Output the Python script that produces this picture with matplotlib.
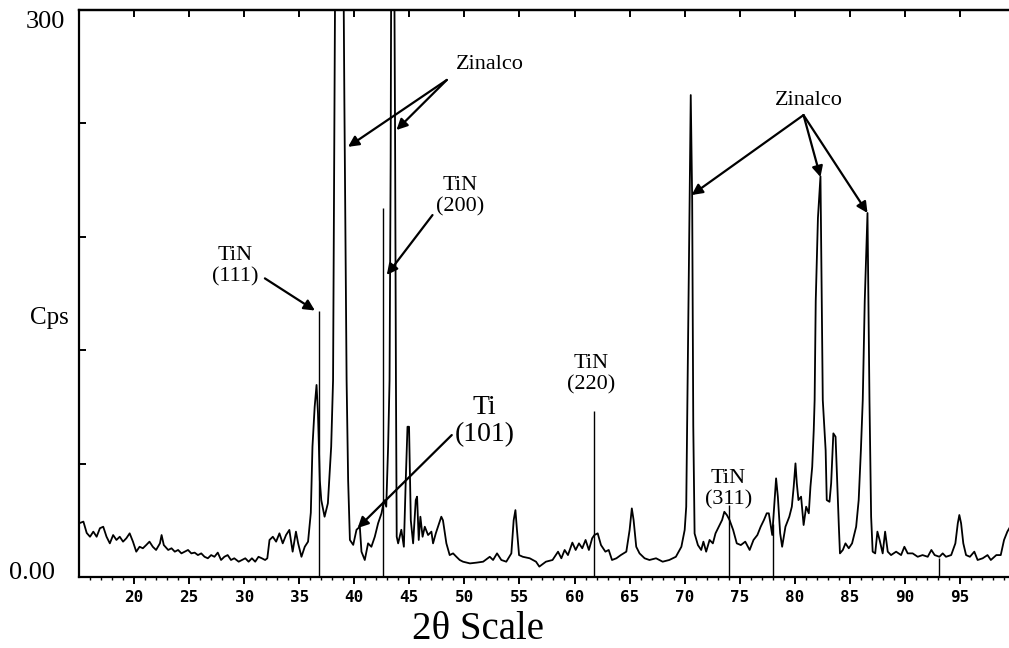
import numpy as np
import matplotlib.pyplot as plt
from matplotlib.transforms import blended_transform_factory

# XRD pattern (2theta in degrees, counts per second)
two_theta = [15.0, 15.4, 15.7, 16.0, 16.3, 16.6, 16.9, 17.2, 17.5, 17.8, 18.1, 18.4, 18.7, 19.0,
             19.3, 19.6, 19.9, 20.2, 20.5, 20.8, 21.1, 21.4, 21.7, 22.0, 22.35, 22.5, 22.7, 23.1,
             23.4, 23.7, 24.0, 24.3, 24.6, 24.9, 25.2, 25.5, 25.8, 26.1, 26.4, 26.7, 27.0, 27.3,
             27.6, 27.9, 28.2, 28.5, 28.8, 29.1, 29.5, 29.8, 30.1, 30.4, 30.7, 31.0, 31.3, 31.6,
             31.9, 32.1, 32.3, 32.6, 32.9, 33.2, 33.5, 33.8, 34.1, 34.4, 34.7, 34.9, 35.2, 35.5,
             35.8, 36.05, 36.2, 36.4, 36.57, 36.7, 36.87, 37.0, 37.3, 37.6, 37.9, 38.07, 38.2,
             38.35, 38.6, 38.9, 39.1, 39.2, 39.3, 39.44, 39.6, 39.9, 40.2, 40.5, 40.65, 40.95,
             41.25, 41.55, 41.86, 42.16, 42.47, 42.7, 42.9, 43.07, 43.2, 43.3, 43.4, 43.55, 43.7,
             43.78, 43.85, 43.98, 44.27, 44.5, 44.67, 44.83, 44.97, 45.13, 45.34, 45.58, 45.7,
             45.85, 46.0, 46.2, 46.4, 46.7, 47.0, 47.15, 47.4, 47.6, 47.9, 48.05, 48.36, 48.66,
             48.97, 49.27, 49.57, 49.87, 50.5, 51.1, 51.7, 52.3, 52.6, 52.96, 53.35, 53.8, 54.26,
             54.47, 54.63, 54.77, 54.96, 55.3, 55.93, 56.5, 56.8, 57.4, 58.0, 58.5, 58.8, 59.1,
             59.4, 59.8, 60.1, 60.4, 60.7, 61.0, 61.3, 61.6, 61.8, 62.1, 62.4, 62.8, 63.1, 63.4,
             63.8, 64.2, 64.7, 65.0, 65.2, 65.36, 65.6, 65.9, 66.36, 66.8, 67.4, 68.0, 68.6, 69.2,
             69.7, 70.0, 70.14, 70.3, 70.45, 70.55, 70.68, 70.78, 70.9, 71.2, 71.5, 71.7, 71.95,
             72.26, 72.56, 72.8, 73.1, 73.4, 73.6, 73.83, 74.07, 74.4, 74.73, 75.1, 75.5, 75.9,
             76.25, 76.6, 76.9, 77.2, 77.45, 77.64, 77.95, 78.16, 78.3, 78.46, 78.67, 78.85,
             79.15, 79.5, 79.73, 79.9, 80.06, 80.18, 80.33, 80.57, 80.8, 81.03, 81.27, 81.42,
             81.58, 81.72, 81.8, 81.9, 82.1, 82.33, 82.45, 82.54, 82.8, 82.9, 83.15, 83.3, 83.5,
             83.7, 83.8, 84.0, 84.1, 84.36, 84.6, 84.9, 85.2, 85.57, 85.8, 86.0, 86.17, 86.35,
             86.6, 86.78, 86.93, 87.07, 87.3, 87.5, 87.7, 87.98, 88.2, 88.44, 88.74, 89.2, 89.65,
             89.95, 90.25, 90.7, 91.16, 91.6, 92.07, 92.4, 92.7, 93.13, 93.43, 93.73, 94.2, 94.58,
             94.8, 94.94, 95.1, 95.3, 95.55, 95.9, 96.3, 96.6, 97.06, 97.5, 97.8, 98.3, 98.7,
             99.0, 99.3, 99.5]
cps = [28.4, 29.3, 23.3, 21.3, 24.0, 21.3, 25.8, 26.6, 21.3, 17.8, 22.2, 19.6, 21.3, 18.7,
       20.5, 23.1, 18.7, 13.4, 16.0, 15.2, 16.9, 18.7, 16.0, 14.3, 17.8, 22.2, 16.9, 14.3,
       15.2, 13.4, 14.3, 12.5, 13.4, 14.3, 12.5, 12.9, 11.6, 12.5, 10.7, 9.9, 11.6, 10.7,
       12.9, 9.0, 10.7, 11.6, 9.0, 9.9, 8.1, 9.0, 9.9, 8.1, 9.9, 8.1, 10.7, 9.9,
       9.0, 9.9, 19.6, 21.3, 18.7, 23.1, 17.8, 22.2, 24.9, 13.4, 24.0, 17.8, 10.7, 16.0,
       18.7, 34.0, 69.0, 90.0, 101.6, 86.7, 51.0, 40.7, 31.9, 39.0, 69.0, 104.0, 250.0,
       420.0, 520.0, 420.0, 250.0, 175.0, 104.0, 51.0, 19.6, 17.0, 25.0, 26.6, 13.4, 9.0,
       17.8, 16.0, 21.3, 28.4, 33.7, 40.7, 37.2, 69.0, 104.0, 220.0, 420.0, 420.0, 236.0,
       104.0, 21.3, 17.8, 25.0, 16.0, 51.0, 79.5, 79.5, 30.0, 17.8, 40.7, 42.5,
       19.6, 31.9, 21.3, 26.6, 22.2, 24.0, 17.8, 23.1, 26.6, 31.9, 30.0, 17.8, 11.6,
       12.5, 10.7, 9.0, 8.1, 7.2, 7.6, 8.1, 10.7, 9.0, 12.5, 9.0, 8.1, 12.5,
       30.0, 35.4, 24.9, 11.6, 10.7, 9.9, 8.1, 5.5, 8.1, 9.0, 13.4, 9.9, 14.3,
       11.6, 18.2, 14.3, 17.8, 15.2, 19.6, 14.3, 20.5, 22.2, 23.1, 16.9, 13.4, 14.3, 9.0,
       9.9, 11.6, 13.4, 24.9, 36.3, 30.2, 16.0, 12.5, 9.9, 9.0, 9.9, 8.1, 9.0, 10.7,
       16.0, 24.9, 37.2, 120.0, 200.0, 255.0, 200.0, 80.0, 23.0, 16.9, 14.3, 18.7, 13.4,
       19.6, 17.8, 23.1, 26.6, 30.2, 34.5, 32.8, 30.2, 24.9, 17.8, 16.9, 18.7, 14.3,
       19.6, 22.2, 26.6, 30.2, 33.7, 33.7, 22.2, 40.7, 52.2, 42.5, 23.1, 16.0,
       26.6, 31.9, 37.2, 47.8, 60.1, 49.6, 40.7, 42.5, 27.5, 37.2, 33.7, 47.8,
       58.3, 77.8, 93.6, 146.0, 190.0, 212.0, 146.0, 93.6, 67.0, 40.7, 39.8, 49.6, 76.0,
       74.2, 58.3, 26.6, 12.5, 14.3, 17.8, 15.2, 17.8, 26.6, 40.7, 67.0, 93.6, 146.0,
       192.6, 93.6, 31.9, 13.4, 12.5, 24.0, 19.6, 12.5, 24.0, 13.4, 11.6, 13.4, 11.6,
       16.0, 12.5, 12.5, 10.7, 11.6, 10.7, 14.3, 11.6, 10.7, 12.5, 10.7, 11.6, 17.8,
       28.4, 32.8, 28.4, 17.8, 11.6, 10.7, 13.4, 9.0, 9.9, 11.6, 9.0, 11.6, 11.6,
       19.6, 24.0, 26.0]

# reference stick lines
stick_pos = [36.8, 42.65, 61.8, 74.0, 78.0, 93.1]
stick_cps = [141, 195, 88, 38, 28, 10]

serif = 'Liberation Serif'

fig = plt.figure(figsize=(10.09, 6.48), dpi=100)
ax = fig.add_axes([79/1009, 1 - 577/648, 930/1009, 567/648])
ax.plot(two_theta, cps, color='black', lw=1.3)
ax.vlines(stick_pos, 0, stick_cps, color='black', lw=1.0)
ax.set_xlim(15, 99.45)
ax.set_ylim(0, 300)

ax.spines['right'].set_visible(False)
for s in ['left', 'top', 'bottom']:
    ax.spines[s].set_linewidth(1.6)

ax.set_xticks(np.arange(20, 100, 5))
ax.set_xticks(np.arange(16, 100, 1), minor=True)
ax.tick_params(axis='x', which='major', direction='out', length=5, width=1.4, pad=4)
ax.tick_params(axis='x', which='minor', direction='out', length=2.5, width=1.0)
for lab in ax.get_xticklabels():
    lab.set_family('DejaVu Sans Mono')
    lab.set_fontweight('bold')
    lab.set_fontsize(11.5)

ax.set_yticks([0, 60, 120, 180, 240, 300])
ax.set_yticklabels([])
ax.tick_params(axis='y', direction='in', length=5, width=1.4)

top = ax.secondary_xaxis('top')
top.set_xticks(np.arange(20, 100, 5))
top.set_xticklabels([])
top.tick_params(direction='in', length=5, width=1.4)
top.spines['top'].set_linewidth(1.6)

trans = blended_transform_factory(ax.transAxes, ax.transData)
ax.text(-0.015, 293.6, '300', transform=trans, ha='right', va='center', family=serif, fontsize=19)
ax.text(-0.026, 2.1, '0.00', transform=trans, ha='right', va='center', family=serif, fontsize=19)
ax.text(-0.032, 137, 'Cps', transform=trans, ha='center', va='center', family=serif, fontsize=18)
fig.text(0.474, 0.028, '2θ Scale', ha='center', va='center', family=serif, fontsize=28)

arrow = dict(arrowstyle='-|>', color='black', lw=1.6, mutation_scale=16, shrinkA=0, shrinkB=0)

ax.text(52.3, 270.9, 'Zinalco', ha='center', va='center', family=serif, fontsize=16)
ax.annotate('', xy=(39.43, 227.6), xytext=(48.4, 263), arrowprops=arrow)
ax.annotate('', xy=(43.83, 236.5), xytext=(48.4, 263), arrowprops=arrow)

ax.text(49.6, 201.3, 'TiN\n(200)', ha='center', va='center', family=serif, fontsize=16, linespacing=1.15)
ax.annotate('', xy=(42.95, 159.8), xytext=(47.1, 191.5), arrowprops=arrow)

ax.text(29.16, 164.5, 'TiN\n(111)', ha='center', va='center', family=serif, fontsize=16, linespacing=1.15)
ax.annotate('', xy=(36.42, 141), xytext=(31.88, 158), arrowprops=arrow)

ax.text(51.84, 82.5, 'Ti\n(101)', ha='center', va='center', family=serif, fontsize=20, linespacing=1.1)
ax.annotate('', xy=(40.3, 25.9), xytext=(48.85, 75.1), arrowprops=arrow)

ax.text(61.46, 107.4, 'TiN\n(220)', ha='center', va='center', family=serif, fontsize=16, linespacing=1.15)
ax.text(73.98, 46.6, 'TiN\n(311)', ha='center', va='center', family=serif, fontsize=16, linespacing=1.15)

ax.text(81.24, 252.3, 'Zinalco', ha='center', va='center', family=serif, fontsize=16)
ax.annotate('', xy=(70.63, 202.1), xytext=(80.79, 244.4), arrowprops=arrow)
ax.annotate('', xy=(82.33, 211.6), xytext=(80.79, 244.4), arrowprops=arrow)
ax.annotate('', xy=(86.6, 192.6), xytext=(80.79, 244.4), arrowprops=arrow)

fig.savefig('out.png', dpi=100)
